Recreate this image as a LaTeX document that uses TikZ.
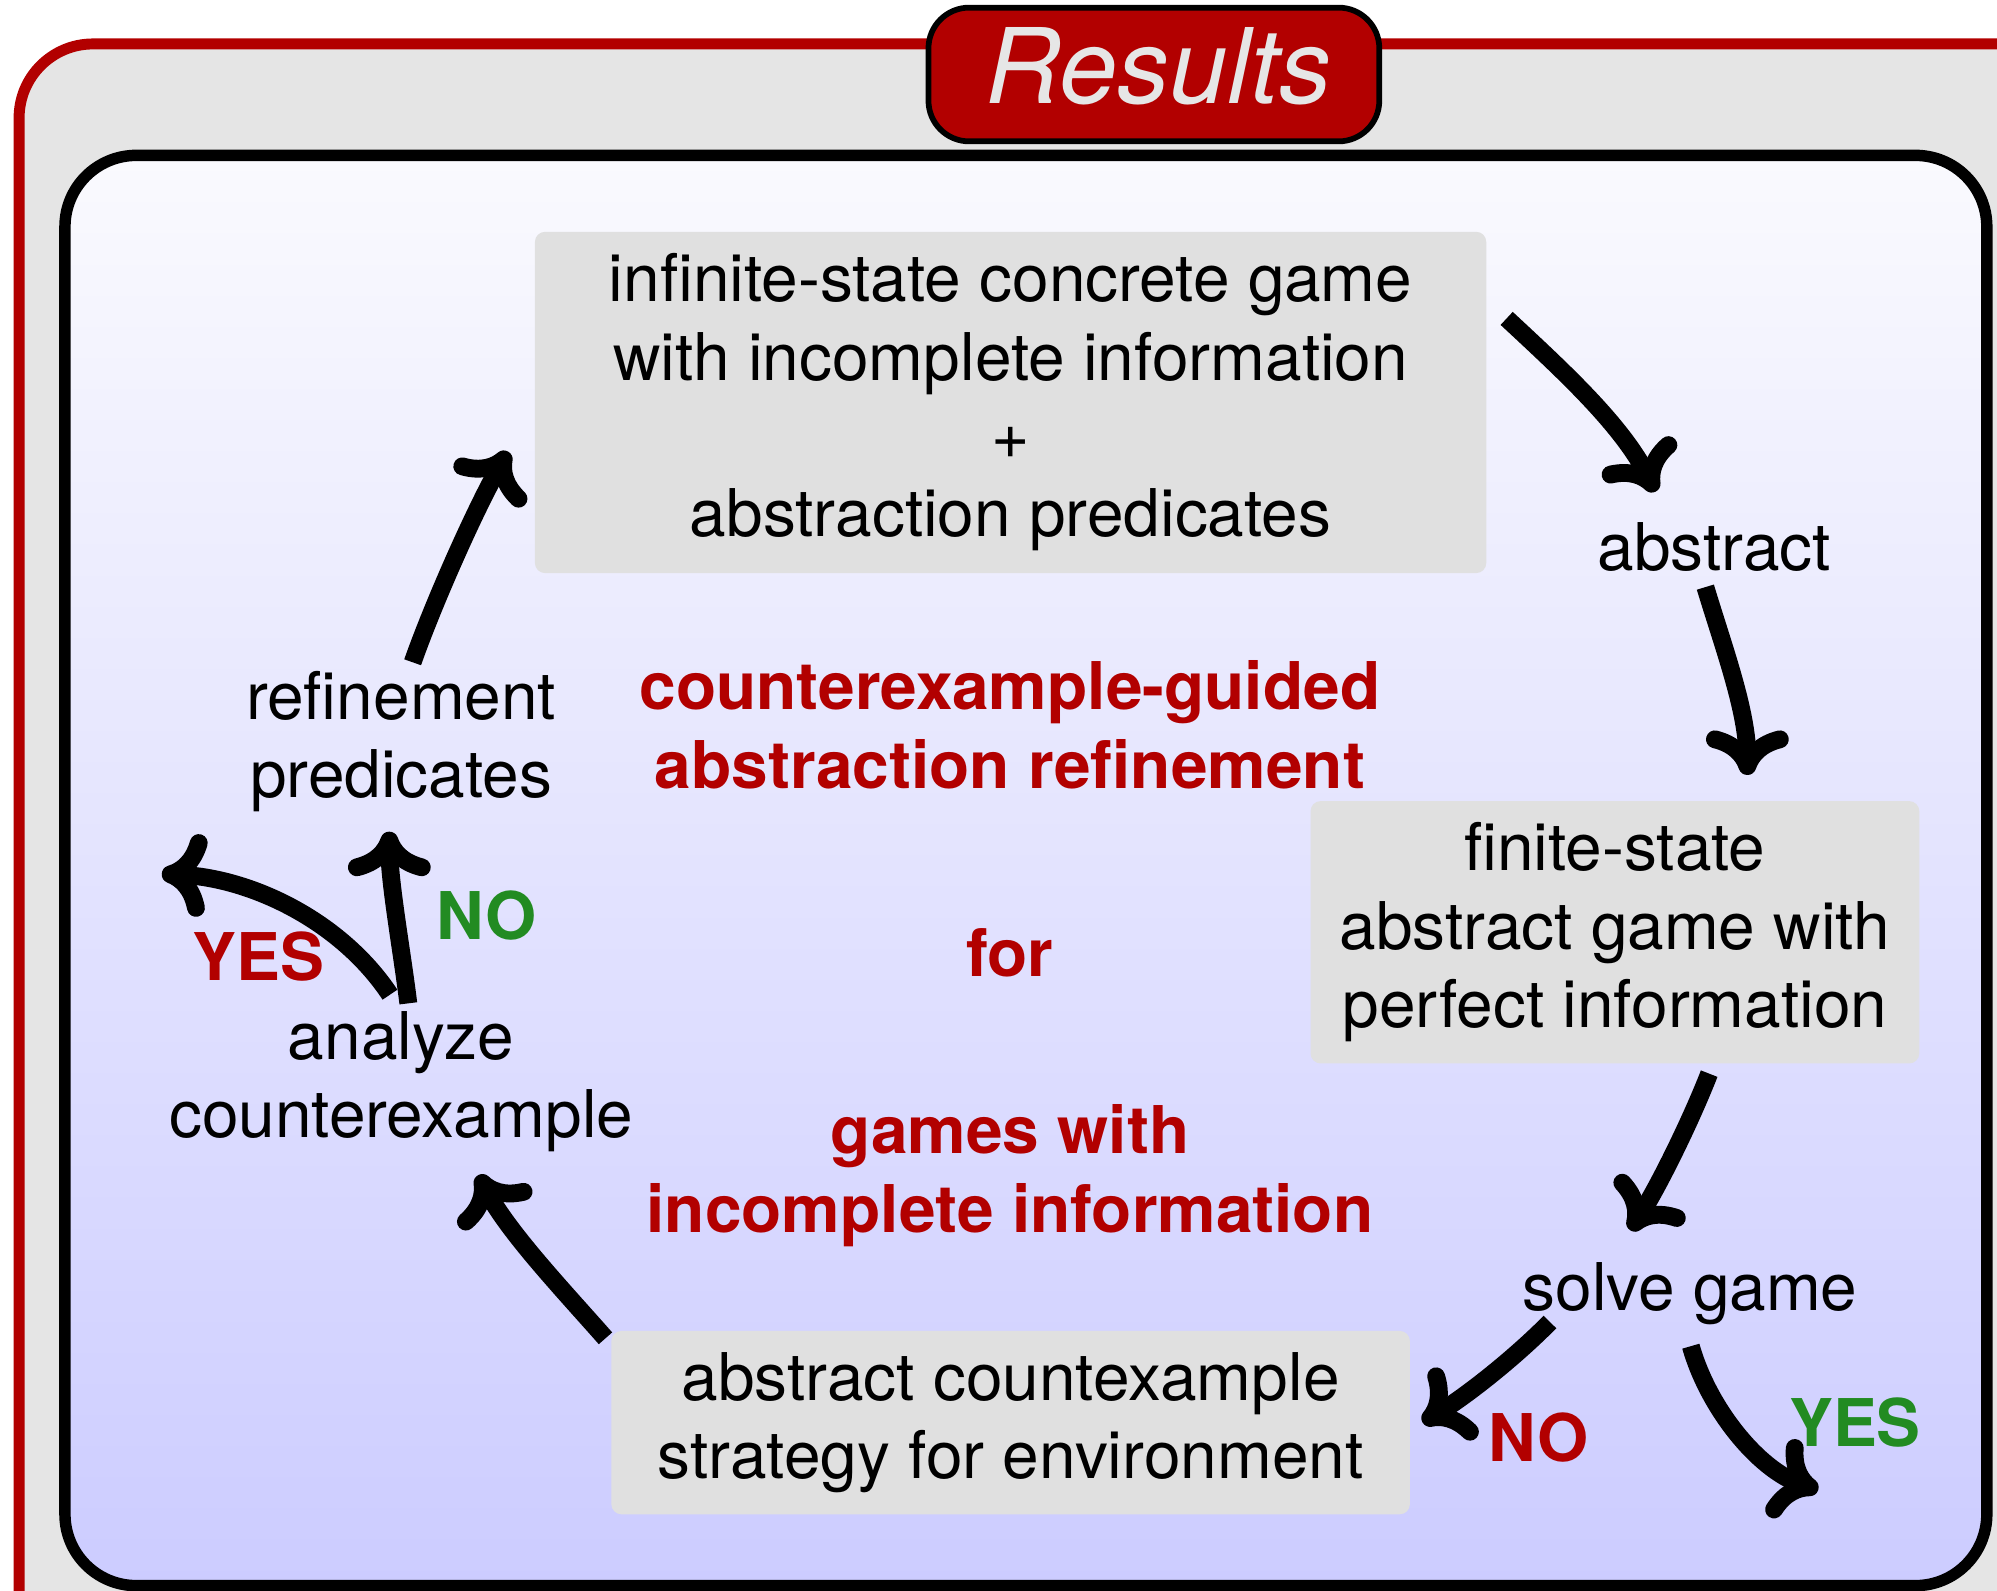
\documentclass[tikz,border=0pt]{standalone}
\usepackage{fontspec}
\setmainfont{TeX Gyre Heros}
\usetikzlibrary{arrows.meta}
\definecolor{blkred}{RGB}{178,0,0}
\definecolor{okgreen}{RGB}{34,139,34}
\definecolor{boxgray}{RGB}{224,224,224}
\definecolor{outergray}{RGB}{229,229,229}
\definecolor{titletext}{RGB}{230,230,230}
\definecolor{shadetop}{RGB}{250,250,254}
\definecolor{shadebot}{RGB}{204,204,255}
\begin{document}
\begin{tikzpicture}[x=0.1mm,y=-0.1mm,
  every node/.style={font=\fontsize{14.7}{17.5}\selectfont, inner sep=0pt, outer sep=0pt},
  gbox/.style={fill=boxgray, rounded corners=0.8mm, align=center},
  lbl/.style={align=center},
  hl/.style={align=center, text=blkred, font=\fontsize{14.7}{17.5}\selectfont\bfseries},
  yn/.style={anchor=base, font=\fontsize{14.7}{17.5}\selectfont\bfseries},
  flow/.style={line width=1.4mm, -{Computer Modern Rightarrow[round,length=3.5mm,width=6.5mm]}},
]
\useasboundingbox (0,0) rectangle (1568,1249);
\clip (0,0) rectangle (1568,1249);
% outer block
\draw[blkred, line width=0.86mm, fill=outergray, rounded corners=5.8mm] (15,34.5) rectangle (1700,1400);
% inner block
\draw[black, line width=0.9mm, rounded corners=5.6mm, top color=shadetop, bottom color=shadebot] (51,122) rectangle (1560,1245);
% title
\node[draw=black, line width=0.45mm, fill=blkred, rounded corners=3.2mm, minimum width=35.4mm, minimum height=10.5mm] (ttl) at (906,58.5) {};
\node[anchor=base, text=titletext, font=\fontsize{23.3}{28}\selectfont\itshape] (ttltxt) at (910,81) {Results};
% boxes
\node[gbox, minimum width=74.7mm, minimum height=26.8mm] (top) at (793.5,316) {infinite-state concrete game\\with incomplete information\\+\\abstraction predicates};
\node[gbox, minimum width=47.8mm, minimum height=20.6mm] (fin) at (1268,732) {finite-state\\abstract game with\\perfect information};
\node[gbox, minimum width=62.7mm, minimum height=14.4mm] (cex) at (793.5,1117) {abstract countexample\\strategy for environment};
% free labels
\node[anchor=base] (abs) at (1346,448) {abstract};
\node[anchor=base] (solve) at (1327,1028.6) {solve game};
\node[lbl] (ref) at (315,582.5) {refinement\\predicates};
\node[lbl] (ana) at (315,849.5) {analyze\\counterexample};
% headings
\node[hl] (h1) at (793,569) {counterexample-guided\\abstraction refinement};
\node[hl] (h2) at (793,748) {for};
\node[hl] (h3) at (793,923) {games with\\incomplete information};
% yes / no
\node[yn, text=okgreen] (no1) at (382,738) {NO};
\node[yn, text=blkred] (yes1) at (203,769.5) {YES};
\node[yn, text=blkred] (no2) at (1208,1147.7) {NO};
\node[yn, text=okgreen] (yes2) at (1456.5,1136) {YES};
% arrow ends
\coordinate (a1s) at (1183,250);   \coordinate (a1e) at (1300,386);
\coordinate (a2s) at (1339,461);   \coordinate (a2e) at (1372,608.5);
\coordinate (a3s) at (1342,843);   \coordinate (a3e) at (1280,966);
\coordinate (a4s) at (1217,1038);  \coordinate (a4e) at (1117,1117);
\coordinate (a5s) at (1327.6,1057);\coordinate (a5e) at (1427.6,1170);
\coordinate (a6s) at (475.4,1050.8);\coordinate (a6e) at (375.6,922.6);
\coordinate (a7s) at (320.6,787.8);\coordinate (a7e) at (305.7,653);
\coordinate (a8s) at (306.2,781);  \coordinate (a8e) at (127,686.2);
\coordinate (a9s) at (324,520);    \coordinate (a9e) at (399,354.6);
\draw[flow] (a1s) .. controls +(44,41) and +(-27,-53) .. (a1e);
\draw[flow] (a2s) .. controls +(14.5,48) and +(0,-50) .. (a2e);
\draw[flow] (a3s) .. controls +(-14.4,37) and +(22,-34) .. (a3e);
\draw[flow] (a4s) .. controls +(-28,28.4) and +(34.4,-21) .. (a4e);
\draw[flow] (a5s) .. controls +(13.5,48) and +(-47.5,-16) .. (a5e);
\draw[flow] (a6s) .. controls +(-33,-37.5) and +(23,44.5) .. (a6e);
\draw[flow] (a7s) .. controls +(-4.8,-39.6) and +(0,40) .. (a7e);
\draw[flow] (a8s) .. controls +(-38.5,-58) and +(70,3) .. (a8e);
\draw[flow] (a9s) .. controls +(16.5,-47) and +(-25,43.5) .. (a9e);
\end{tikzpicture}
\end{document}
